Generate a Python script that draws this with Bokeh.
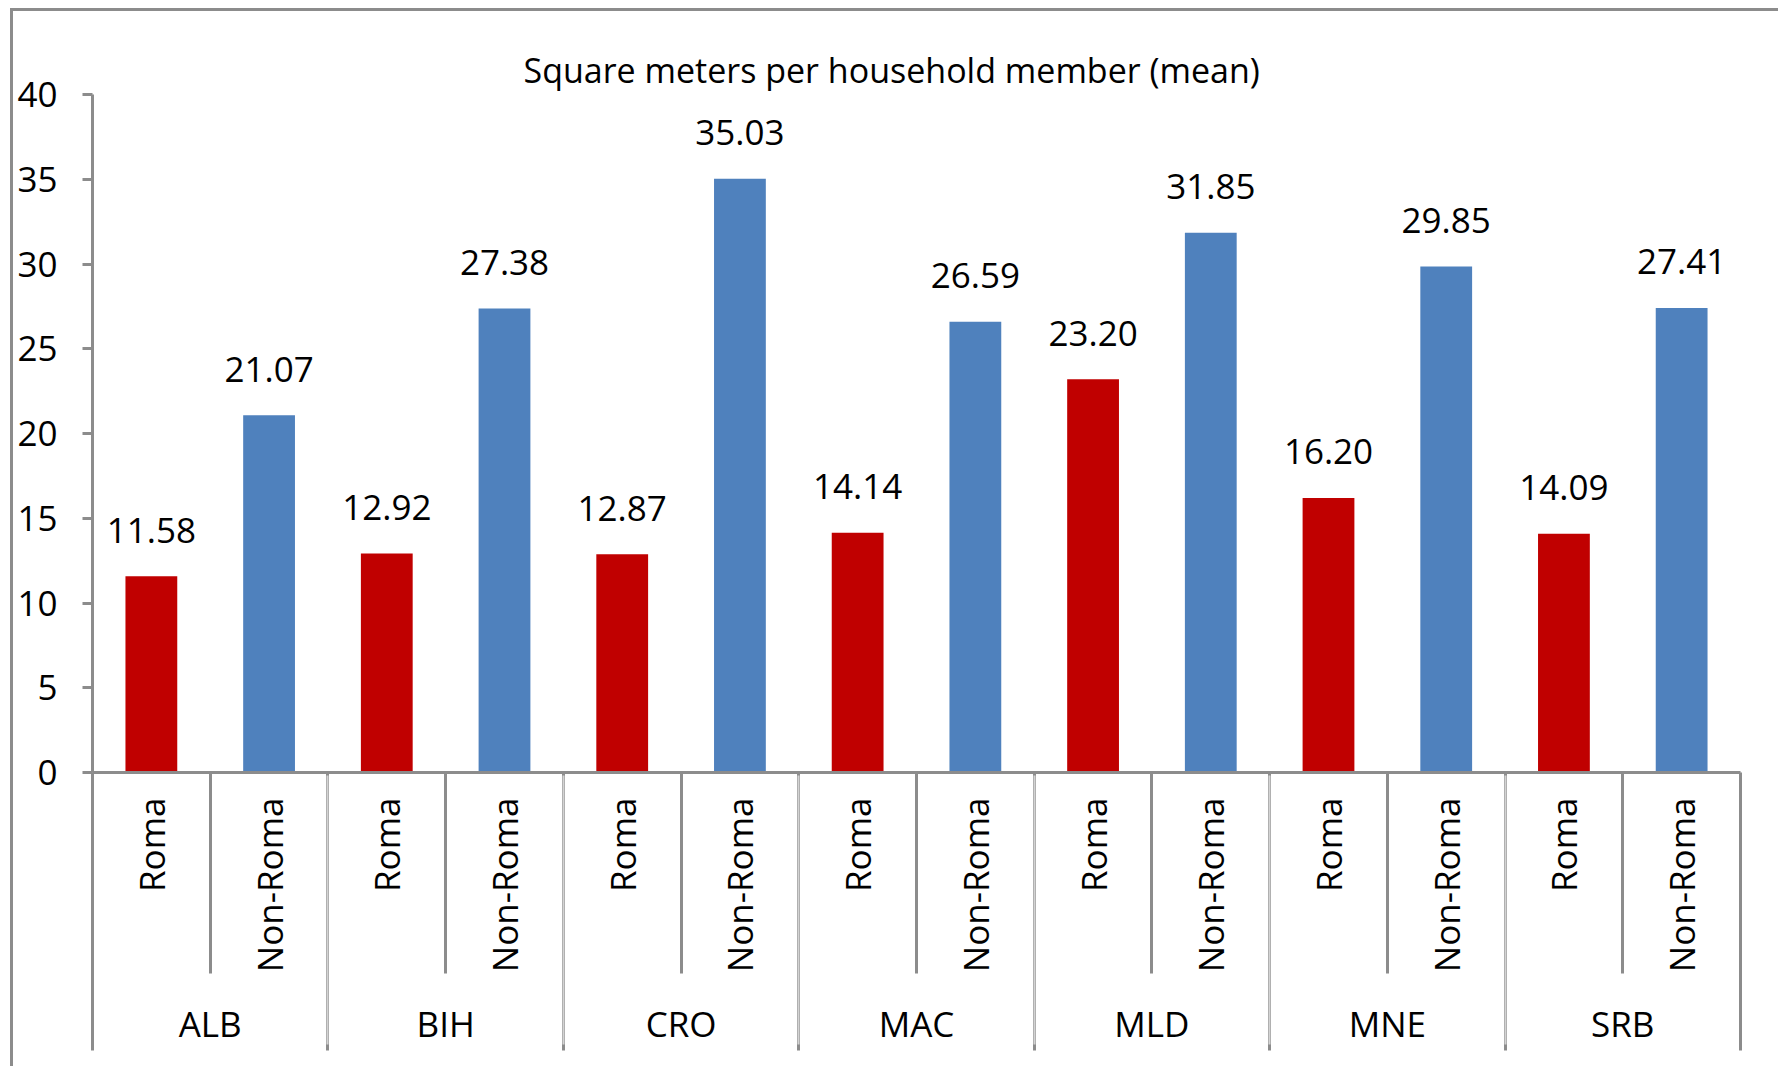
import math
from bokeh.plotting import figure
from bokeh.models import (FactorRange, Range1d, LinearAxis, CategoricalAxis, FixedTicker,
                          ColumnDataSource)
from bokeh.core.properties import value
from bokeh.embed import file_html
from bokeh.resources import INLINE

# ---- data ----
countries = ["ALB", "BIH", "CRO", "MAC", "MLD", "MNE", "SRB"]
groups = ["Roma", "Non-Roma"]
roma = [11.58, 12.92, 12.87, 14.14, 23.20, 16.20, 14.09]
non_roma = [21.07, 27.38, 35.03, 26.59, 31.85, 29.85, 27.41]
y_ticks = [0, 5, 10, 15, 20, 25, 30, 35, 40]
title_text = "Square meters per household member (mean)"

RED = "#C00000"
BLUE = "#4F81BD"
GRAY = "#8C8C8C"
FONT = "Open Sans"

factors, vals, cols = [], [], []
for c, r, n in zip(countries, roma, non_roma):
    factors += [(c, groups[0]), (c, groups[1])]
    vals += [r, n]
    cols += [RED, BLUE]
labels = [f"{v:.2f}" for v in vals]
src = ColumnDataSource(dict(x=factors, top=vals, color=cols, label=labels))

n_sub = len(factors)
group_edges = list(range(0, n_sub + 1, len(groups)))
sub_edges = [i for i in range(1, n_sub) if i % len(groups) != 0]

x_range = FactorRange(factors=factors, factor_padding=0, group_padding=0, range_padding=0)

p = figure(width=1768, height=1058, x_range=x_range, y_range=Range1d(0, 40),
           output_backend="svg", toolbar_location=None, x_axis_location=None,
           min_border_left=79, min_border_right=41, min_border_top=83, min_border_bottom=297)
p.styles = {"border-top": f"3px solid {GRAY}", "border-left": f"3px solid {GRAY}",
            "margin-top": "8px", "margin-left": "10px"}

p.vbar(x="x", top="top", width=0.44, color="color", line_color=None, source=src)
p.text(x="x", y="top", text="label", source=src, text_align="center",
       text_baseline="alphabetic", y_offset=-46, text_font=value(FONT),
       text_font_size="35px", text_color="black")

# separators + baseline axis (numeric ticks at category boundaries)
sep = LinearAxis(ticker=FixedTicker(ticks=group_edges, minor_ticks=sub_edges),
                 major_tick_in=-278, major_tick_out=0,
                 minor_tick_in=-201, minor_tick_out=0,
                 major_label_text_color=None, major_label_standoff=0,
                 axis_line_color=GRAY, axis_line_width=3,
                 major_tick_line_color=GRAY, major_tick_line_width=3,
                 minor_tick_line_color=GRAY, minor_tick_line_width=3)
p.add_layout(sep, "below")

cat = CategoricalAxis(major_label_orientation=math.pi / 2,
                      major_label_text_font=FONT, major_label_text_font_size="35px",
                      major_label_text_color="black", major_label_standoff=25,
                      group_text_font=FONT, group_text_font_size="35px",
                      group_text_font_style="normal", group_text_color="black",
                      axis_line_color=None, major_tick_line_color=None,
                      major_tick_out=0, major_tick_in=0)
p.add_layout(cat, "below")

ya = p.yaxis[0]
ya.ticker = FixedTicker(ticks=y_ticks)
ya.major_tick_out = 10
ya.major_tick_in = 0
ya.minor_tick_line_color = None
ya.axis_line_color = GRAY
ya.axis_line_width = 3
ya.major_tick_line_color = GRAY
ya.major_tick_line_width = 3
ya.major_label_text_font = FONT
ya.major_label_text_font_size = "35px"
ya.major_label_text_color = "black"
ya.major_label_standoff = 25

p.xgrid.visible = False
p.ygrid.visible = False
p.outline_line_color = None

p.title.text = title_text
p.title.align = "left"
p.title.offset = 431
p.title.text_font = FONT
p.title.text_font_size = "34px"
p.title.text_font_style = "normal"
p.title.text_color = "black"
p.title.standoff = 4

open("out.html", "w").write(file_html(p, INLINE))
